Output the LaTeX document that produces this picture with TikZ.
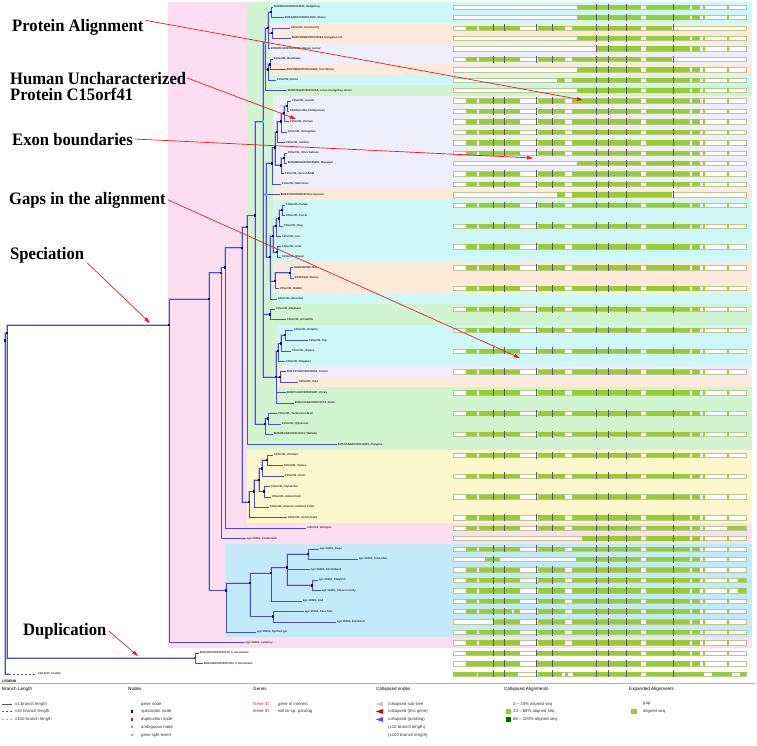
\documentclass[tikz,border=0pt]{standalone}
\usepackage{fontspec}
\setmainfont{Liberation Serif}
\setsansfont{Liberation Sans}
\newfontfamily\annfont[FakeStretch=0.95]{Liberation Serif}
\usetikzlibrary{arrows.meta}

\definecolor{treeblue}{RGB}{70,80,200}
\definecolor{treehalo}{RGB}{190,190,240}
\definecolor{spcol}{RGB}{10,10,110}
\definecolor{ambcol}{RGB}{60,200,210}
\definecolor{dupcol}{RGB}{200,20,20}
\definecolor{splitcol}{RGB}{245,160,60}
\definecolor{pinkbg}{RGB}{253,222,240}
\definecolor{greenbg}{RGB}{208,245,208}
\definecolor{cyanbg}{RGB}{206,247,247}
\definecolor{orangebg}{RGB}{253,234,218}
\definecolor{lavbg}{RGB}{238,238,252}
\definecolor{yellowbg}{RGB}{253,247,206}
\definecolor{fishbg}{RGB}{194,234,250}
\definecolor{alngreen}{RGB}{153,204,51}
\definecolor{alndark}{RGB}{0,100,0}
\definecolor{alnedge}{RGB}{185,200,145}
\definecolor{exongray}{RGB}{90,90,90}
\definecolor{calloutred}{RGB}{228,30,30}
\definecolor{leafgray}{RGB}{45,45,45}
\definecolor{pinkdash}{RGB}{230,150,170}
\definecolor{geneblue}{RGB}{40,40,220}
\definecolor{genered}{RGB}{230,30,30}

\newcommand{\leaffont}{\sffamily\bfseries\fontsize{2.8}{3}\selectfont}

% alignment patterns (green blocks, px)
\def\pfull{466/477,479/520,538/565,572/641,646/690,692/700,703/705,727/729}
\def\ptail{577/641,646/690,692/700,703/705,727/729}
\def\pshort{466/477,479/520,538/565,572/641,646/672}
\def\plate{596/641,646/690,692/700,703/705,727/729}
\def\pmid{557/565,572/641,646/690,692/700,703/705,727/729}

\newcommand{\alnrow}[2]{%
  \edef\alnlist{#2}%
  \draw[seqbar] (453,#1-0.21) rectangle (746,#1+0.21);
  \foreach \ba/\bb in \alnlist {%
    \fill[aligned] (\ba,#1-0.21) rectangle (\bb,#1+0.21);
    \foreach \tk in {493,504,536,552,596,608,626,673} {%
      \pgfmathtruncatemacro\tickok{and(\tk>\ba-3,\tk<\bb+3)}%
      \ifnum\tickok=1 \draw[exon] (\tk,#1-0.33) -- (\tk,#1+0.33);\fi
    }%
  }%
}

\tikzset{
  br/.style={draw=treeblue, line width=0.5pt, preaction={draw=treehalo, line width=1.8pt}},
  leafbr/.style={draw=treeblue, line width=0.5pt},
  brdash/.style={draw=treeblue, line width=0.5pt, dash pattern=on 2pt off 2pt},
  leaf/.style={anchor=west, inner sep=0.6pt, font=\leaffont, text=leafgray},
  spnode/.style={rectangle, fill=spcol, minimum size=2.4pt, inner sep=0pt},
  ambnode/.style={spnode, fill=ambcol},
  dupnode/.style={spnode, fill=dupcol},
  note/.style={anchor=base west, inner sep=0pt, font=\annfont\bfseries\fontsize{17.5}{17.5}\selectfont},
  callout/.style={draw=calloutred, line width=0.7pt, -{Triangle[length=6pt,width=3.6pt]}},
  seqbar/.style={fill=white, draw=alnedge, line width=0.25pt},
  aligned/.style={fill=alngreen},
  exon/.style={draw=exongray, line width=0.35pt},
  legline/.style={draw=treeblue, line width=0.6pt},
  leghead/.style={anchor=west, inner sep=0pt, font=\sffamily\fontsize{4.6}{5}\selectfont},
  legitem/.style={anchor=west, inner sep=0pt, font=\sffamily\fontsize{4.3}{5}\selectfont, text=black!80},
}

\begin{document}
\begin{tikzpicture}[x=1pt, y=-1pt]
  \useasboundingbox (0,0) rectangle (757,745);

  % rows: pixel y = 10.42*row - 3.42
  \begin{scope}[yshift=3.42pt, y=-10.42pt]
    % taxonomy bands
    \fill[pinkbg] (168,0.5) rectangle (752,62.5);
    \fill[greenbg] (247,0.5) rectangle (752,43.5);
    \fill[yellowbg] (247,43.5) rectangle (752,50.5);
    \fill[fishbg] (226,52.5) rectangle (752,61.5);
    \foreach \col/\xl/\ra/\rb in {cyanbg/270/1/2, orangebg/270/3/4, lavbg/270/5/6,
        orangebg/270/7/7, cyanbg/270/8/8, lavbg/273/10/18, orangebg/273/19/19,
        cyanbg/273/20/25, orangebg/273/26/28, cyanbg/273/29/29, cyanbg/277/32/35,
        lavbg/277/36/36, orangebg/277/37/37}
      \fill[\col] (\xl,\ra-0.5) rectangle (752,\rb+0.5);

    % alignments
    \foreach \rw in {10,...,15,17,18,20,...,50,53,55,58,61,62} {\alnrow{\rw}{\pfull}}
    \foreach \rw in {1,2,4,7,9,16} {\alnrow{\rw}{\ptail}}
    \foreach \rw in {3,6} {\alnrow{\rw}{\pshort}}
    \alnrow{5}{\plate}
    \alnrow{8}{\pmid}
    \alnrow{19}{557/565,572/672}
    \alnrow{51}{466/477,479/520,538/565,572/641,646/690,692/700,703/705,727/746}
    \alnrow{52}{582/641,646/690,692/700,703/705,727/729}
    \alnrow{54}{485/500,576/641,646/690,692/700,703/705,727/729}
    \foreach \rw in {56,57} {\alnrow{\rw}{466/477,479/520,538/565,572/641,646/690,692/700,703/705,727/729,738/746}}
    \alnrow{59}{466/477,479/512,514/520,538/565,572/641,646/690,692/700,703/705,727/729}
    \alnrow{60}{493/520,538/565,572/641,646/690,692/700,703/705,727/729}
    \foreach \rw in {63,64} {\alnrow{\rw}{466/520,536/641,646/690,692/700,703/705,727/729}}
    \alnrow{65}{453/477,478/518,538/562,565/568,573/641,646/704,712/732,740/746}

    % internal tree nodes
    \coordinate (n0) at (5,33);      \coordinate (n1) at (7,32.3);
    \coordinate (nV) at (169,31.5);  \coordinate (nG) at (209,29);
    \coordinate (nS) at (221,26.5);  \coordinate (nT) at (225,26);
    \coordinate (nA) at (242,24.1);  \coordinate (nM) at (247,22.1);
    \coordinate (nTh) at (255,21);   \coordinate (nEu) at (263,12);
    \coordinate (nE1) at (265,4.4);  \coordinate (nX2) at (268,3);
    \coordinate (nHS) at (271,1.5);  \coordinate (nGK) at (272,3.5);
    \coordinate (nX3) at (268,7);    \coordinate (nBT) at (270,6.5);
    \coordinate (nE2) at (266,19);   \coordinate (nPri) at (272,16);
    \coordinate (nCat) at (275,14.5);\coordinate (nG4) at (277,13);
    \coordinate (nG3) at (281,12);   \coordinate (nG2) at (284,11.2);
    \coordinate (nG1) at (287,10.5); \coordinate (nOW2) at (281,16.2);
    \coordinate (nOW1) at (284,15.5);\coordinate (nE3) at (270,25);
    \coordinate (nCR) at (273,23);   \coordinate (nCar) at (276,22);
    \coordinate (nPFD) at (279,21.3);\coordinate (nPF) at (282,20.5);
    \coordinate (nRum) at (277,24.5);\coordinate (nGl) at (275,27.3);
    \coordinate (nGlR) at (290,26.5);\coordinate (nAX) at (270,30.5);
    \coordinate (nE4) at (276,36.5); \coordinate (nDP3) at (278,34);
    \coordinate (nDP2) at (281,33.3);\coordinate (nDP1) at (285,32.5);
    \coordinate (nTP) at (280,36.5); \coordinate (nMar) at (265,41);
    \coordinate (nMar2) at (268,40.5);\coordinate (nSau) at (249,48.5);
    \coordinate (nArch) at (254,47.5);\coordinate (nBird) at (259,46.4);
    \coordinate (nGal) at (262,45.3);\coordinate (nGal1) at (267,44.5);
    \coordinate (nPas) at (264,47.5);\coordinate (nF) at (226,57);
    \coordinate (nTel) at (250,56.3);\coordinate (nAcan) at (271,55.3);
    \coordinate (nPerc) at (287,54.8);\coordinate (nTet) at (308,53.5);
    \coordinate (nPoe) at (312,56.5);\coordinate (nOto) at (273,59.5);
    \coordinate (nCi) at (195,63.5);

    \foreach \pa/\ch in {n0/n1, n1/nV, n1/nCi, nV/nG, nG/nS, nG/nF, nS/nT, nT/nA,
        nA/nM, nA/nSau, nM/nTh, nTh/nEu, nTh/nMar, nMar/nMar2,
        nEu/nE1, nEu/nE2, nEu/nAX, nEu/nE4, nE1/nX2, nE1/nX3, nX2/nHS, nX2/nGK, nX3/nBT,
        nE2/nPri, nE2/nE3, nPri/nCat, nCat/nG4, nCat/nOW2, nG4/nG3, nG3/nG2, nG2/nG1, nOW2/nOW1,
        nE3/nCR, nE3/nGl, nCR/nCar, nCR/nRum, nCar/nPFD, nPFD/nPF, nGl/nGlR,
        nE4/nDP3, nE4/nTP, nDP3/nDP2, nDP2/nDP1,
        nSau/nArch, nArch/nBird, nBird/nGal, nBird/nPas, nGal/nGal1,
        nF/nTel, nTel/nAcan, nTel/nOto, nAcan/nPerc, nPerc/nTet, nPerc/nPoe}
      \draw[br] (\pa) |- (\ch);

    % leaves
    \foreach \rw/\lx/\pa/\lbl in {
        1/273/nHS/{ENSEEUG00000013631, Hedgehog}, 2/284/nHS/{ENSSARG00000013300, Shrew},
        3/290/nGK/{C15orf41, Guinea Pig}, 4/291/nGK/{ENSDORG00000005168, Kangaroo rat},
        5/270/nX2/{ENSMICG00000011488, Mouse Lemur}, 6/273/nBT/{C15orf41, Bushbaby},
        7/286/nBT/{ENSTBEG00000014602, Tree Shrew}, 8/276/nX3/{C15orf41, Horse},
        9/287/nE1/{ENSETEG00000006165, Lesser hedgehog tenrec},
        10/291/nG1/{C15orf41, Gorilla}, 11/289/nG1/{C15H15orf41, Chimpanzee},
        12/289/nG2/{C15orf41, Human}, 13/287/nG3/{C15orf41, Orangutan},
        14/285/nG4/{C15orf41, Gibbon}, 15/287/nOW1/{C15orf41, Olive baboon},
        16/287/nOW1/{ENSMMUG00000006607, Macaque}, 17/284/nOW2/{C15orf41, Vervet-AGM},
        18/281/nPri/{C15orf41, Marmoset}, 19/280/nE2/{ENSSTOG00000007154, Squirrel},
        20/285/nPF/{C15orf41, Panda}, 21/285/nPF/{C15orf41, Ferret},
        22/283/nPFD/{C15orf41, Dog}, 23/281/nCar/{C15orf41, Cat},
        24/281/nRum/{C15orf41, Cow}, 25/281/nRum/{C15orf41, Sheep},
        26/293/nGlR/{RGD1560580, Rat}, 27/294/nGlR/{BC003940, Mouse},
        28/279/nGl/{C15orf41, Rabbit}, 29/277/nE3/{C15orf41, Microbat},
        30/275/nAX/{C15orf41, Elephant}, 31/286/nAX/{C15orf41, Armadillo},
        32/293/nDP1/{C15orf41, Dolphin}, 33/308/nDP1/{C15orf41, Pig},
        34/291/nDP2/{C15orf41, Alpaca}, 35/285/nDP3/{C15orf41, Megabat},
        36/286/nTP/{ENSTSYG00000008094, Tarsier}, 37/298/nTP/{C15orf41, Pika},
        38/286/nE4/{ENSPCAG00000005437, Hyrax}, 39/294/nE4/{ENSCHOG00000001672, Sloth},
        40/277/nMar2/{C15orf41, Tasmanian devil}, 41/281/nMar2/{C15orf41, Opossum},
        42/273/nMar/{ENSMEUG00000013103, Wallaby}, 43/337/nM/{ENSOANG00000013305, Platypus},
        44/273/nGal1/{C15orf41, Chicken}, 45/283/nGal1/{C15orf41, Turkey},
        46/284/nGal/{C15orf41, Duck}, 47/270/nPas/{C15orf41, Flycatcher},
        48/271/nPas/{C15orf41, Zebra Finch}, 49/269/nArch/{C15orf41, Chinese softshell turtle},
        50/287/nSau/{C15orf41, Anole lizard}, 51/306/nT/{c15orf41, Xenopus},
        52/246/nS/{sgc:10491, Coelacanth}, 53/319/nTet/{sgc:10491, Fugu},
        54/358/nTet/{sgc:10491, Tetraodon}, 55/310/nPerc/{sgc:10491, Stickleback},
        56/318/nPoe/{sgc:10491, Platyfish}, 57/321/nPoe/{sgc:10491, Amazon molly},
        58/302/nAcan/{sgc:10491, Cod}, 59/304/nOto/{sgc:10491, Cave fish},
        60/336/nOto/{sgc:10491, Zebrafish}, 61/256/nF/{sgc:10491, Spotted gar},
        62/245/nV/{sgc:10491, Lamprey}, 63/199/nCi/{ENSCING00000004719, C.intestinalis},
        64/203/nCi/{ENSCING00000001903, C.intestinalis}} {
      \coordinate (L\rw) at (\lx,\rw);
      \draw[leafbr] (\pa) |- (L\rw);
      \node[leaf] (T\rw) at (L\rw) {\lbl};
    }
    \coordinate (ffk) at (9,65);
    \coordinate (L65) at (37,65);
    \draw[br] (n0) |- (ffk);
    \draw[brdash] (ffk) -- (L65);
    \node[leaf] (T65) at (L65) {CG13713, Fruitfly};

    % node markers
    \foreach \nd in {n0, n1, nV, nG, nS, nT, nA, nM, nTh, nX2, nHS, nGK, nX3, nBT,
        nPri, nCat, nG4, nG3, nG2, nG1, nOW2, nOW1, nE3, nCR, nCar, nPFD, nPF, nRum,
        nGl, nGlR, nAX, nE4, nDP3, nDP2, nDP1, nTP, nMar, nMar2, nSau, nArch, nBird,
        nGal, nGal1, nPas, nF, nTel, nAcan, nPerc, nTet, nPoe, nOto}
      \node[spnode] (m\nd) at (\nd) {};
    \foreach \nd in {nEu, nE1, nE2}
      \node[ambnode] (m\nd) at (\nd) {};
    \node[dupnode] (mnCi) at (nCi) {};
  \end{scope}

  % call-outs
  \node[note] (noteAln) at (12,31.7) {Protein Alignment};
  \node[note] (noteHumA) at (10,84) {Human Uncharacterized};
  \node[note] (noteHumB) at (10,100) {Protein C15orf41};
  \node[note] (noteExon) at (12,145) {Exon boundaries};
  \node[note] (noteGap) at (9,204) {Gaps in the alignment};
  \node[note] (noteSpec) at (10,259) {Speciation};
  \node[note] (noteDup) at (23,635) {Duplication};
  \coordinate (tgtAln) at (583,100);
  \coordinate (tgtHum) at (296,119);
  \coordinate (tgtExon) at (533,158);
  \coordinate (tgtGap) at (520,358);
  \coordinate (tgtSpec) at (150,323);
  \coordinate (tgtDup) at (138,656);
  \draw[callout] ([xshift=2pt,yshift=-1pt]noteAln.north east) -- (tgtAln);
  \draw[callout] ([xshift=1pt]noteHumA.east) -- (tgtHum);
  \draw[callout] ([xshift=2pt]noteExon.east) -- (tgtExon);
  \draw[callout] ([xshift=2pt]noteGap.east) -- (tgtGap);
  \draw[callout] ([xshift=3pt]noteSpec.south east) -- (tgtSpec);
  \draw[callout] ([xshift=2pt]noteDup.east) -- (tgtDup);

  % legend
  \draw[gray!60, line width=0.6pt] (0,683) -- (755,683);
  \node[anchor=base west, inner sep=0pt, font=\sffamily\bfseries\fontsize{3.4}{4}\selectfont] (legTitle) at (2,682.5) {LEGEND};
  \node[leghead] (hBranch) at (2,689) {Branch Length};
  \node[leghead] (hNodes) at (128,689) {Nodes};
  \node[leghead] (hGenes) at (253,689) {Genes};
  \node[leghead] (hCollN) at (376,689) {Collapsed nodes};
  \node[leghead] (hCollA) at (504,689) {Collapsed Alignments};
  \node[leghead] (hExpA) at (629,689) {Expanded Alignments};

  \draw[legline] (2,704) -- (12,704);
  \draw[legline, dash pattern=on 2.2pt off 2pt] (2,711.5) -- (12,711.5);
  \draw[legline, draw=pinkdash, dash pattern=on 2.2pt off 2pt] (2,719.5) -- (12,719.5);
  \node[legitem] (iX1) at (15,704) {x1 branch length};
  \node[legitem] (iX10) at (15,711.5) {x10 branch length};
  \node[legitem] (iX100) at (15,719.5) {x100 branch length};

  \node[legitem] (iGene) at (141,704) {gene node};
  \node[spnode, minimum size=2.6pt] (sSp) at (132,711.5) {};
  \node[legitem] (iSp) at (141,711.5) {speciation node};
  \node[dupnode, minimum size=2.6pt] (sDup) at (132,719.5) {};
  \node[legitem] (iDup) at (141,719.5) {duplication node};
  \node[ambnode, minimum size=2.6pt] (sAmb) at (132,727) {};
  \node[legitem] (iAmb) at (141,727) {ambiguous node};
  \node[spnode, fill=splitcol, minimum size=2.6pt] (sSplit) at (132,735) {};
  \node[legitem] (iSplit) at (141,735) {gene split event};

  \node[legitem, text=genered] (gRed) at (253,704) {Gene ID};
  \node[legitem] (gInt) at (278,704) {gene of interest};
  \node[legitem, text=geneblue] (gBlue) at (253,711.5) {Gene ID};
  \node[legitem] (gPar) at (278,711.5) {within-sp. paralog};

  \foreach \yy/\cc in {704/gray!45, 711.5/red!85!black, 719.5/blue!70}
    \fill[\cc] (376,\yy) -- (383,\yy-2.5) -- (383,\yy+2.5) -- cycle;
  \node[legitem] (cSub) at (388,704) {collapsed sub-tree};
  \node[legitem] (cThis) at (388,711.5) {collapsed (this gene)};
  \node[legitem] (cPar) at (388,719.5) {collapsed (paralog)};
  \node[legitem] (cX10) at (388,727) {(x10 branch length)};
  \node[legitem] (cX100) at (388,735) {(x100 branch length)};

  \node[legitem] (aLow) at (513,704) {0 – 33\% aligned seq};
  \fill[alngreen] (506,709.2) rectangle (511,713.8);
  \node[legitem] (aMid) at (513,711.5) {33 – 66\% aligned seq};
  \fill[alndark] (506,717.2) rectangle (511,721.8);
  \node[legitem] (aHigh) at (513,719.5) {66 – 100\% aligned seq};

  \node[legitem] (eGap) at (643,704) {gap};
  \fill[alngreen] (631,709.2) rectangle (637,713.8);
  \node[legitem] (eAln) at (643,711.5) {aligned seq};
\end{tikzpicture}
\end{document}
